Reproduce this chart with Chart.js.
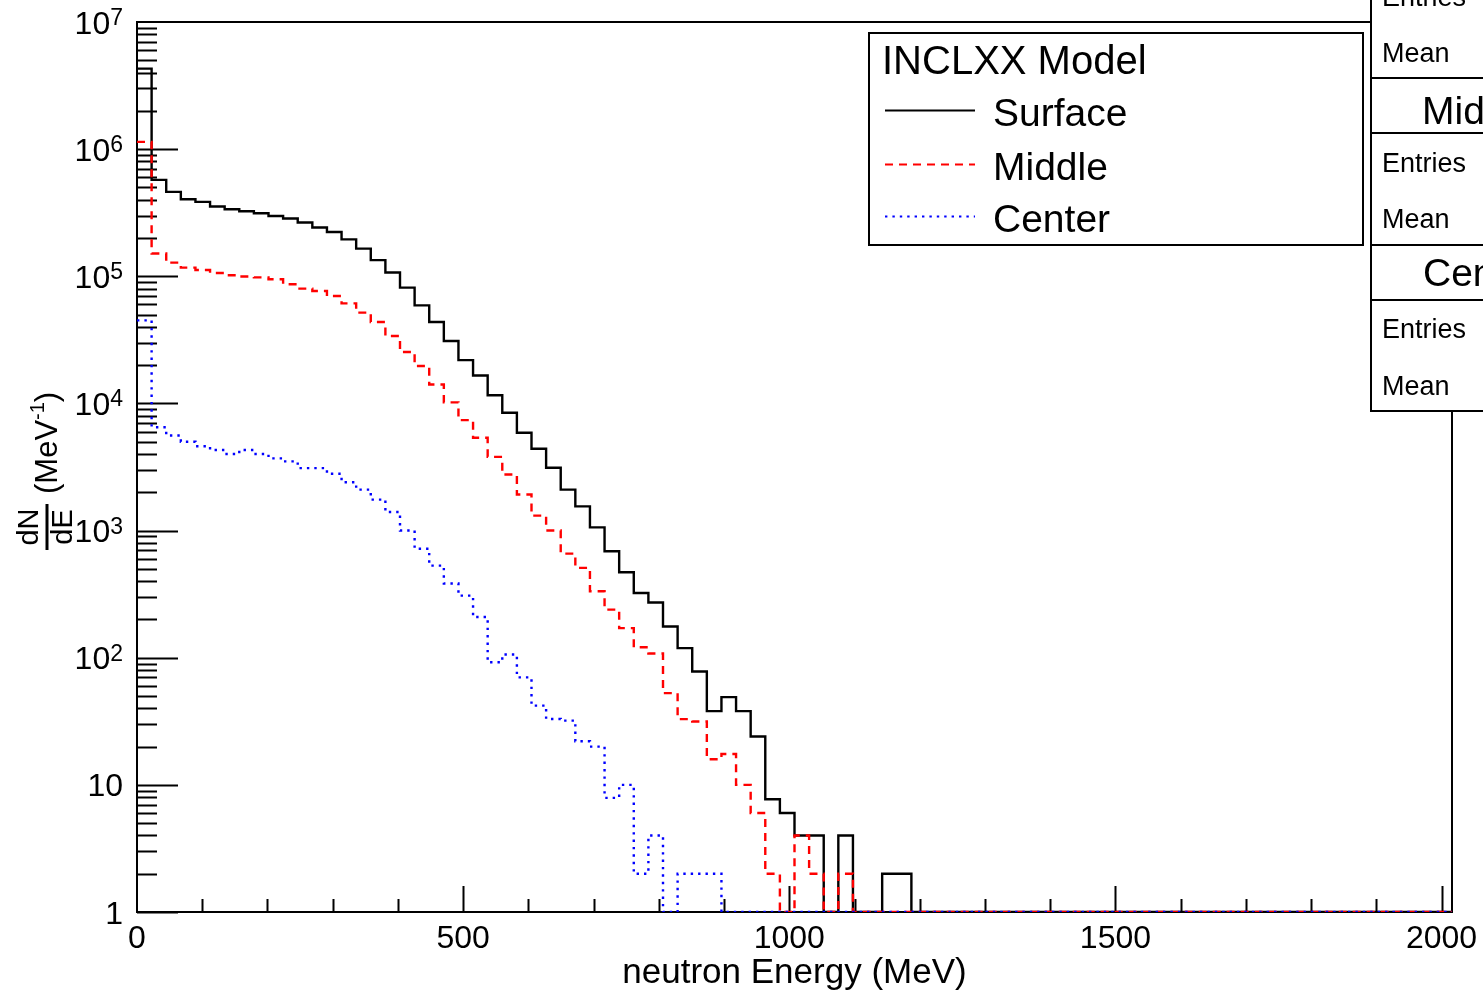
<!DOCTYPE html>
<html>
<head>
<meta charset="utf-8">
<script src="https://cdn.jsdelivr.net/npm/chart.js@4.4.1/dist/chart.umd.min.js"></script>
<style>
  html, body { margin: 0; padding: 0; background: #fff; overflow: hidden; }
  #plot { display: block; }
</style>
</head>
<body>
<canvas id="plot" width="1483" height="992"></canvas>
<script>
// neutron energy spectra, INCLXX model, 22.4 MeV bins (90 bins over 0-2016 MeV)
const binWidth = 22.4;
const nBins = 90;

// dN/dE per bin (0 = empty bin, drawn on the axis floor like ROOT)
const surface = [4.3e6, 5.73e5, 4.61e5, 4.04e5, 3.85e5, 3.54e5, 3.37e5, 3.25e5, 3.13e5, 2.98e5,
  2.85e5, 2.65e5, 2.42e5, 2.23e5, 1.95e5, 1.65e5, 1.34e5, 1.07e5, 8.15e4, 5.91e4,
  4.37e4, 3.10e4, 2.19e4, 1.66e4, 1.16e4, 8450, 5880, 4400, 3120, 2100,
  1550, 1060, 687, 470, 323, 272, 176, 119, 78, 38,
  49, 38, 24, 7.7, 6, 4, 4, 0, 4, 0,
  0, 2, 2];
const middle = [1.14e6, 1.51e5, 1.28e5, 1.17e5, 1.12e5, 1.06e5, 1.02e5, 9.95e4, 9.8e4, 9.47e4,
  8.65e4, 8.0e4, 7.66e4, 7.0e4, 6.12e4, 5.18e4, 4.37e4, 3.39e4, 2.54e4, 1.97e4,
  1.41e4, 1.02e4, 7390, 5370, 3800, 2760, 1920, 1310, 1000, 659,
  509, 333, 239, 171, 121, 108, 52.7, 32.9, 31.5, 15.9,
  17.5, 10, 6, 2, 0, 4, 2, 0, 2];
const center = [4.5e4, 6500, 5600, 5000, 4600, 4300, 4000, 4300, 4000, 3700,
  3500, 3100, 3100, 2800, 2400, 2100, 1750, 1400, 1000, 720,
  530, 383, 308, 209, 92, 106, 70, 42, 33, 32,
  22, 20, 7.9, 10, 2, 4, 0, 2, 2, 2];

const seriesNames = ['Surface', 'Middle', 'Center'];
const xTickValues = [0, 500, 1000, 1500, 2000];
const yTickValues = [1, 10, 100, 1e3, 1e4, 1e5, 1e6, 1e7];
const yTickLabels = ['1', '10', '10^2', '10^3', '10^4', '10^5', '10^6', '10^7'];

const FONT = '"Liberation Sans", Arial, Helvetica, sans-serif';

// histogram outline: one point per low bin edge, plus the closing edge
function histPoints(vals) {
  const pts = [];
  for (let i = 0; i < nBins; i++) {
    const v = i < vals.length ? vals[i] : 0;
    pts.push({ x: i * binWidth, y: v > 0 ? v : 1 });
  }
  pts.push({ x: nBins * binWidth, y: pts[pts.length - 1].y });
  return pts;
}

const rootStyle = {
  id: 'rootStyle',
  beforeDatasetsDraw(chart) {
    const { ctx, chartArea: a } = chart;
    const x = chart.scales.x, y = chart.scales.y;
    ctx.save();
    ctx.strokeStyle = '#000';
    ctx.lineWidth = 2;
    ctx.strokeRect(a.left, a.top, a.right - a.left, a.bottom - a.top);
    ctx.beginPath();
    for (let v = 100; v <= 2000; v += 100) {
      const px = Math.round(x.getPixelForValue(v)) + 0.5;
      const len = xTickValues.includes(v) ? 26 : 13;
      ctx.moveTo(px, a.bottom);
      ctx.lineTo(px, a.bottom - len);
    }
    for (let k = 0; k < 7; k++) {
      for (let m = 1; m <= 9; m++) {
        const v = m * Math.pow(10, k);
        const py = Math.round(y.getPixelForValue(v)) + 0.5;
        const len = m === 1 ? 41 : 20;
        ctx.moveTo(a.left, py);
        ctx.lineTo(a.left + len, py);
      }
    }
    ctx.stroke();
    ctx.restore();
  },
  afterDraw(chart) {
    const { ctx } = chart;
    const y = chart.scales.y;
    ctx.save();
    ctx.fillStyle = '#000';

    // y tick labels with superscripts
    ctx.textBaseline = 'alphabetic';
    ctx.textAlign = 'left';
    yTickValues.forEach((v, i) => {
      const py = y.getPixelForValue(v);
      const parts = yTickLabels[i].split('^');
      ctx.font = '32px ' + FONT;
      const wb = ctx.measureText(parts[0]).width;
      if (parts.length > 1) {
        ctx.font = '23px ' + FONT;
        const we = ctx.measureText(parts[1]).width;
        const x0 = 123 - wb - we;
        ctx.fillText(parts[1], x0 + wb, py + 3);
        ctx.font = '32px ' + FONT;
        ctx.fillText(parts[0], x0, py + 11.5);
      } else {
        ctx.fillText(parts[0], 123 - wb, py + 11.5);
      }
    });

    // y title: dN/dE (MeV^-1), rotated
    ctx.save();
    ctx.translate(48, 0);
    ctx.rotate(-Math.PI / 2);
    ctx.textBaseline = 'middle';
    ctx.textAlign = 'left';
    ctx.font = '31px ' + FONT;
    let u = -494;
    ctx.fillText('(MeV', u, 0);
    u += ctx.measureText('(MeV').width;
    ctx.font = '20px ' + FONT;
    ctx.fillText('-1', u, -10);
    u += ctx.measureText('-1').width;
    ctx.font = '31px ' + FONT;
    ctx.fillText(')', u, 0);
    ctx.textAlign = 'center';
    ctx.font = '29px ' + FONT;
    ctx.fillText('dN', -527, -18);
    ctx.fillText('dE', -527, 16);
    ctx.lineWidth = 3;
    ctx.beginPath();
    ctx.moveTo(-504, -1);
    ctx.lineTo(-550, -1);
    ctx.stroke();
    ctx.restore();

    // legend box
    ctx.fillStyle = '#fff';
    ctx.fillRect(869, 33, 494, 212);
    ctx.lineWidth = 2;
    ctx.strokeStyle = '#000';
    ctx.strokeRect(869, 33, 494, 212);
    ctx.fillStyle = '#000';
    ctx.textAlign = 'left';
    ctx.textBaseline = 'alphabetic';
    ctx.font = '40px ' + FONT;
    ctx.fillText('INCLXX Model', 882, 74);
    ctx.font = '39px ' + FONT;
    const rows = [126, 180, 232];
    chart.data.datasets.forEach((ds, i) => {
      const ly = rows[i] - 15.5;
      ctx.save();
      ctx.strokeStyle = ds.borderColor;
      ctx.lineWidth = 2;
      ctx.setLineDash(ds.borderDash || []);
      ctx.beginPath();
      ctx.moveTo(885, ly);
      ctx.lineTo(975, ly);
      ctx.stroke();
      ctx.restore();
      ctx.fillText(ds.label, 993, rows[i]);
    });

    // stats boxes (cut by the right edge)
    ctx.fillStyle = '#fff';
    ctx.fillRect(1371, -5, 140, 416);
    ctx.strokeStyle = '#000';
    ctx.lineWidth = 2;
    ctx.strokeRect(1371, -5, 140, 416);
    ctx.beginPath();
    [78, 133, 245, 300].forEach(ly => { ctx.moveTo(1371, ly); ctx.lineTo(1483, ly); });
    ctx.stroke();
    ctx.fillStyle = '#000';
    ctx.font = '27px ' + FONT;
    ctx.fillText('Entries', 1382, 6);
    ctx.fillText('Mean', 1382, 62);
    ctx.fillText('Entries', 1382, 172);
    ctx.fillText('Mean', 1382, 228);
    ctx.fillText('Entries', 1382, 338);
    ctx.fillText('Mean', 1382, 395);
    ctx.font = '39px ' + FONT;
    ctx.fillText('Middle', 1422, 124);
    ctx.fillText('Center', 1423, 286);
    ctx.restore();
  }
};

new Chart(document.getElementById('plot'), {
  type: 'line',
  data: {
    datasets: [
      { label: seriesNames[0], data: histPoints(surface), borderColor: '#000000', borderWidth: 2.4, order: 3 },
      { label: seriesNames[1], data: histPoints(middle), borderColor: '#ff0000', borderWidth: 2.4, borderDash: [8, 6], order: 2 },
      { label: seriesNames[2], data: histPoints(center), borderColor: '#0000ff', borderWidth: 2.4, borderDash: [2.4, 5], order: 1 }
    ]
  },
  options: {
    responsive: false,
    animation: false,
    layout: { padding: { top: 22, right: 31, left: 0, bottom: 0 } },
    elements: {
      line: { stepped: 'before', fill: false, tension: 0, borderCapStyle: 'butt' },
      point: { radius: 0, hoverRadius: 0 }
    },
    plugins: { legend: { display: false }, tooltip: { enabled: false } },
    scales: {
      x: {
        type: 'linear',
        min: 0,
        max: nBins * binWidth,
        grid: { display: false, drawTicks: false },
        border: { display: false },
        afterBuildTicks: s => { s.ticks = xTickValues.map(v => ({ value: v })); },
        afterFit: s => { s.height = 80; s.paddingLeft = 0; s.paddingRight = 0; },
        ticks: {
          autoSkip: false,
          maxRotation: 0,
          padding: 8,
          color: '#000',
          font: { family: FONT, size: 32 },
          callback: v => String(v)
        },
        title: {
          display: true,
          text: 'neutron Energy (MeV)',
          color: '#000',
          padding: { top: 0, bottom: -2 },
          font: { family: FONT, size: 35 }
        }
      },
      y: {
        type: 'logarithmic',
        min: 1,
        max: 1e7,
        grid: { display: false, drawTicks: false },
        border: { display: false },
        afterBuildTicks: s => { s.ticks = yTickValues.map(v => ({ value: v })); },
        afterFit: s => { s.width = 137; s.paddingTop = 0; s.paddingBottom = 0; },
        ticks: { display: false }
      }
    }
  },
  plugins: [rootStyle]
});
</script>
</body>
</html>
